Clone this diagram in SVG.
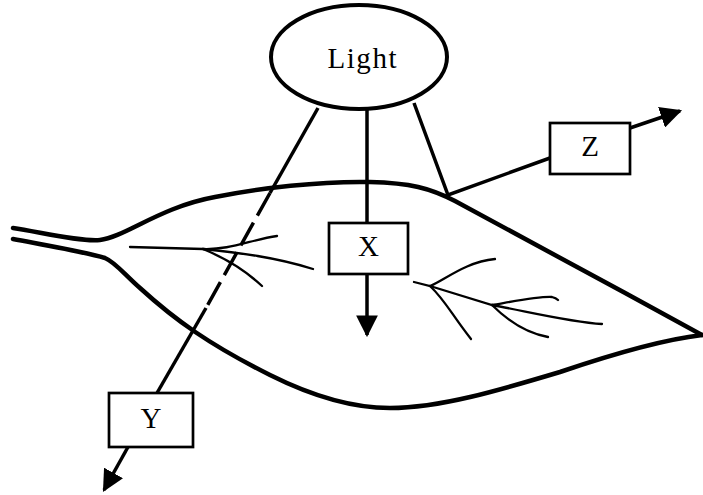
<svg xmlns="http://www.w3.org/2000/svg" width="703" height="495" viewBox="0 0 703 495">
<style>
.leaf{fill:none;stroke:#000;stroke-width:4.5;stroke-linecap:round;stroke-linejoin:round}
.vein{fill:none;stroke:#000;stroke-width:2.3;stroke-linecap:round}
.conn{fill:none;stroke:#000;stroke-width:3.5}
.box{fill:#fff;stroke:#000;stroke-width:2.7}
.lbl{font-family:"Liberation Serif",serif;font-size:29px;fill:#000;text-anchor:middle}
</style>
<defs>
<marker id="ah" viewBox="0 0 10 10" refX="9" refY="5" markerWidth="6.2" markerHeight="6.2" markerUnits="strokeWidth" orient="auto">
<path d="M0,0 L10,5 L0,10 z" fill="#000"/>
</marker>
</defs>
<rect width="703" height="495" fill="#fff"/>
<g id="leaf">
<path class="leaf" d="M13,228 C40,232 80,242 100,240 C125,237 160,207 215,197 C260,188 320,181 370,182 C410,183 430,188 455,201 C540,247 620,290 702,335"/>
<path class="leaf" d="M13,239 C50,246 85,252 105,258 C115,262 125,275 140,288 C175,320 210,345 270,375 C310,395 350,408 390,408 C440,408 500,390 560,372 C610,355 660,340 702,335"/>
<path class="vein" d="M130,247 L203,249 C230,250 250,240 277,236"/>
<path class="vein" d="M203,249 C240,253 275,257 313,269"/>
<path class="vein" d="M203,249 C225,258 245,270 262,286"/>
<path class="vein" d="M414,282 L430,286 C445,280 465,262 495,259"/>
<path class="vein" d="M430,286 C445,300 452,315 471,339"/>
<path class="vein" d="M430,286 L492,305 C510,302 540,296 552,297 C556,298 558,300 558,300"/>
<path class="vein" d="M492,305 C530,312 570,322 602,324"/>
<path class="vein" d="M492,305 C505,318 525,333 548,337"/>
</g>
<g id="connectors">
<line class="conn" x1="318" y1="108" x2="270" y2="193"/>
<line class="conn" x1="270" y1="193" x2="206" y2="308" stroke-dasharray="26 8"/>
<line class="conn" x1="206" y1="308" x2="157" y2="393"/>
<line class="conn" x1="128" y1="447" x2="104" y2="490" marker-end="url(#ah)"/>
<line class="conn" x1="367" y1="110" x2="367" y2="223"/>
<line class="conn" x1="367" y1="274" x2="367" y2="335" marker-end="url(#ah)"/>
<polyline class="conn" points="414,103 448,195 550,158"/>
<line class="conn" x1="630" y1="128" x2="680" y2="111" marker-end="url(#ah)"/>
</g>
<g id="light">
<ellipse cx="359" cy="57" rx="88" ry="52" fill="#fff" stroke="#000" stroke-width="4"/>
<text class="lbl" x="362" y="68" textLength="69" lengthAdjust="spacing">Light</text>
</g>
<g id="x">
<rect class="box" x="329" y="223" width="79" height="51"/>
<text class="lbl" x="368.5" y="256">X</text>
</g>
<g id="y">
<rect class="box" x="109" y="393" width="84" height="54"/>
<text class="lbl" x="151" y="428">Y</text>
</g>
<g id="z">
<rect class="box" x="550" y="123" width="80" height="51"/>
<text class="lbl" x="590" y="156">Z</text>
</g>
</svg>
